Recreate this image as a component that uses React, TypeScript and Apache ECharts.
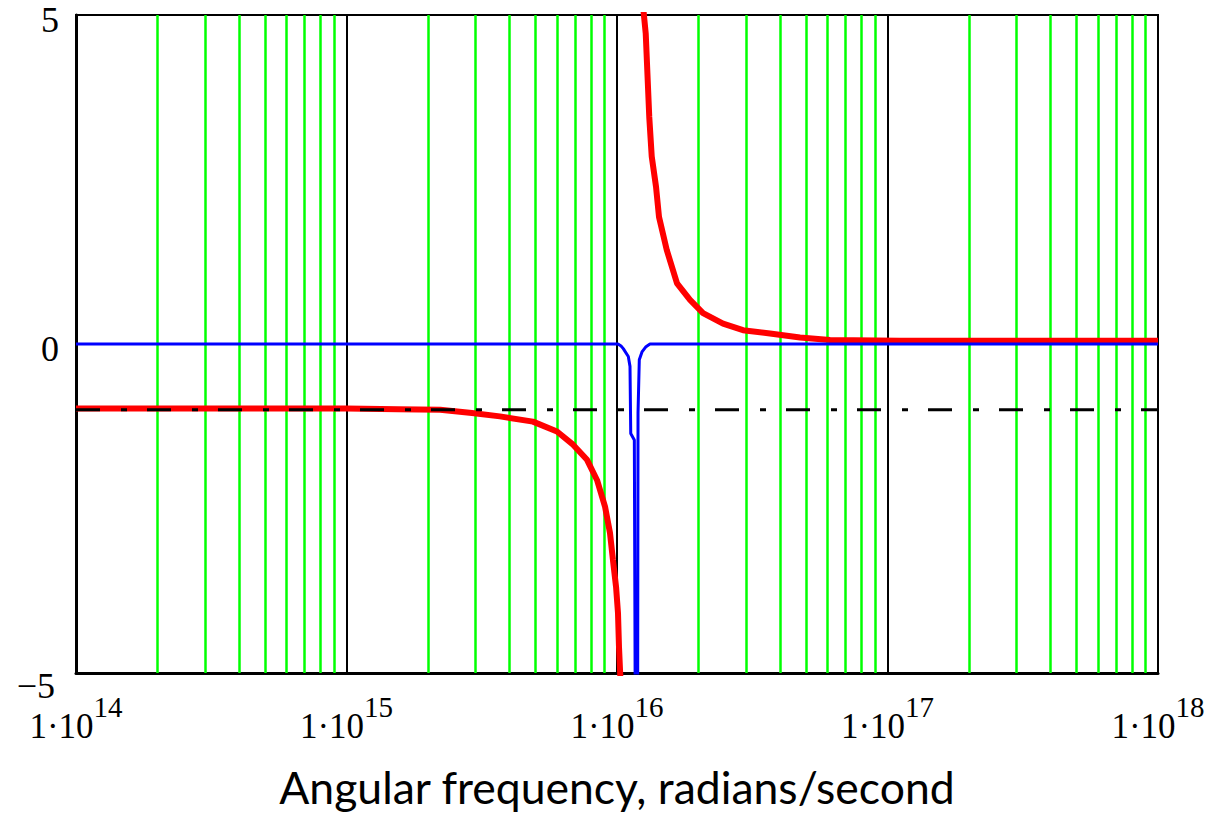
import React, { useEffect, useRef } from "react";
import * as echarts from "echarts";

// ---- data ----
const xTickExponents = [14, 15, 16, 17, 18];
const yTicks = [-5, 0, 5];
const minorMultipliers = [2, 3, 4, 5, 6, 7, 8, 9];

// red curve, below resonance
const redLowFreq = [1e14, 2.87e14, 1e15, 1.55e15, 2.22e15, 2.91e15, 3.69e15, 4.89e15, 6.0e15, 6.88e15, 7.75e15, 8.44e15, 9.03e15, 9.42e15, 9.66e15, 9.92e15, 1.0085e16, 1.017e16, 1.035e16];
const redLowVal = [-0.98, -0.98, -0.98, -0.99, -1.0, -1.05, -1.1, -1.18, -1.33, -1.53, -1.76, -2.07, -2.47, -2.87, -3.28, -3.69, -4.09, -4.6, -5.3];
// red curve, above resonance
const redHighFreq = [1.237e16, 1.277e16, 1.316e16, 1.344e16, 1.394e16, 1.43e16, 1.527e16, 1.667e16, 1.862e16, 2.08e16, 2.466e16, 2.923e16, 3.678e16, 4.75e16, 6.13e16, 1.11e17, 2.6e17, 1e18];
const redHighVal = [5.3, 4.72, 3.45, 2.85, 2.39, 1.93, 1.43, 0.92, 0.67, 0.47, 0.31, 0.21, 0.16, 0.1, 0.06, 0.05, 0.05, 0.05];
// blue curve
const blueFreq = [1e14, 1.0085e16, 1.035e16, 1.055e16, 1.101e16, 1.117e16, 1.124e16, 1.159e16, 1.171e16, 1.191e16, 1.196e16, 1.209e16, 1.237e16, 1.28e16, 1.324e16, 1e18];
const blueVal = [0, 0, -0.03, -0.07, -0.19, -0.34, -1.36, -1.46, -7, -7, -1.05, -0.24, -0.12, -0.04, 0, 0];
// dash-dot reference level
const refLevelFreq = [1e14, 1e18];
const refLevelVal = [-1, -1];

const zip = (xs: number[], ys: number[]) => xs.map((x, i) => [x, ys[i]]);

export default function App() {
  const ref = useRef<HTMLDivElement>(null);
  useEffect(() => {
    if (!ref.current) return;
    const chart = echarts.init(ref.current, null, { renderer: "svg" });
    const minorLines: { xAxis: number }[] = [];
    for (let i = 0; i < xTickExponents.length - 1; i++) {
      for (const m of minorMultipliers) minorLines.push({ xAxis: m * Math.pow(10, xTickExponents[i]) });
    }
    const serif = "'Liberation Serif', 'Times New Roman', serif";
    chart.setOption({
      animation: false,
      backgroundColor: "#fff",
      grid: {
        left: 76,
        right: 64,
        top: 15,
        bottom: 143,
        show: true,
        borderColor: "#000",
        borderWidth: 2,
        backgroundColor: "transparent",
      },
      xAxis: {
        type: "log",
        logBase: 10,
        min: Math.pow(10, xTickExponents[0]),
        max: Math.pow(10, xTickExponents[xTickExponents.length - 1]),
        splitNumber: xTickExponents.length - 1,
        axisLine: { show: true, onZero: false, lineStyle: { color: "#000", width: 3 } },
        axisTick: { show: false },
        splitLine: { show: true, lineStyle: { color: "#000", width: 2 } },
        axisLabel: {
          margin: 19,
          showMinLabel: true,
          showMaxLabel: true,
          hideOverlap: false,
          formatter: (v: number) => `{a|1·10}{b|${Math.round(Math.log10(v))}}`,
          rich: {
            a: { fontSize: 35, fontFamily: serif, color: "#000", lineHeight: 52, verticalAlign: "bottom" },
            b: { fontSize: 29, fontFamily: serif, color: "#000", lineHeight: 14, verticalAlign: "top" },
          },
        },
        name: "Angular frequency, radians/second",
        nameLocation: "middle",
        nameGap: 91,
        nameTextStyle: { fontFamily: "Lato, 'Open Sans', sans-serif", fontSize: 44.5, color: "#000" },
      },
      yAxis: {
        type: "value",
        min: yTicks[0],
        max: yTicks[yTicks.length - 1],
        interval: yTicks[1] - yTicks[0],
        axisLine: { show: true, onZero: false, lineStyle: { color: "#000", width: 3 } },
        axisTick: { show: true, inside: true, length: 22, lineStyle: { color: "#000", width: 2 } },
        splitLine: { show: false },
        axisLabel: {
          margin: 17,
          formatter: (v: number) => (v < 0 ? `{m|\u2212${Math.abs(v)}}` : `{n|${v}}`),
          rich: {
            n: { fontSize: 36, fontFamily: serif, color: "#000", padding: [9, 0, 0, 0] },
            m: { fontSize: 36, fontFamily: serif, color: "#000", padding: [26, 4, 0, 0] },
          },
        },
      },
      series: [
        {
          type: "line",
          data: [],
          z: 1,
          silent: true,
          markLine: {
            z: 1,
            silent: true,
            symbol: "none",
            label: { show: false },
            lineStyle: { color: "#00ff00", width: 2.5, type: "solid", opacity: 1 },
            data: minorLines,
          },
        },
        {
          type: "line",
          name: "red-low",
          data: zip(redLowFreq, redLowVal),
          showSymbol: false,
          clip: true,
          z: 3,
          lineStyle: { color: "#ff0000", width: 6 },
        },
        {
          type: "line",
          name: "red-high",
          data: zip(redHighFreq, redHighVal),
          showSymbol: false,
          clip: true,
          z: 3,
          lineStyle: { color: "#ff0000", width: 6 },
        },
        {
          type: "line",
          name: "blue",
          data: zip(blueFreq, blueVal),
          showSymbol: false,
          clip: true,
          z: 4,
          lineStyle: { color: "#0000ff", width: 3 },
        },
        {
          type: "line",
          name: "level",
          data: zip(refLevelFreq, refLevelVal),
          showSymbol: false,
          clip: true,
          z: 5,
          lineStyle: { color: "#000", width: 3, type: [24, 21, 6, 20] },
        },
      ],
    });
    return () => chart.dispose();
  }, []);
  return (
    <div
      ref={ref}
      style={{ position: "fixed", left: 0, top: 0, width: 1222, height: 816, background: "#fff" }}
    />
  );
}
